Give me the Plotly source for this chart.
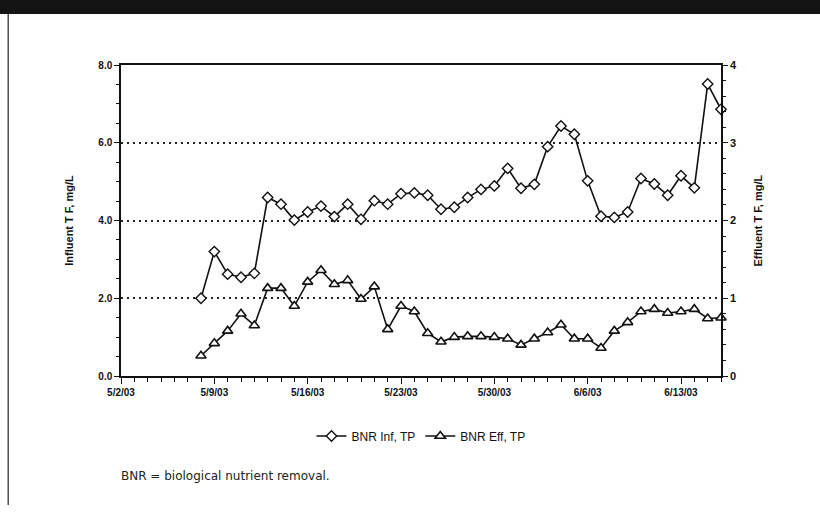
import pandas as pd
import plotly.graph_objects as go

# ---- data ----
dates = pd.date_range("2003-05-08", "2003-06-16", freq="D")
influent_tp = [2.00, 3.20, 2.62, 2.54, 2.64, 4.59, 4.42, 4.01, 4.22, 4.37,
               4.10, 4.42, 4.03, 4.51, 4.42, 4.69, 4.71, 4.65, 4.29, 4.34,
               4.59, 4.80, 4.89, 5.34, 4.83, 4.93, 5.90, 6.43, 6.22, 5.02,
               4.11, 4.08, 4.22, 5.08, 4.94, 4.65, 5.15, 4.84, 7.51, 6.86]
effluent_tp = [0.26, 0.42, 0.58, 0.80, 0.65, 1.13, 1.13, 0.90, 1.21, 1.36,
               1.18, 1.23, 0.99, 1.15, 0.60, 0.90, 0.83, 0.55, 0.44, 0.50,
               0.51, 0.51, 0.50, 0.48, 0.40, 0.48, 0.56, 0.66, 0.48, 0.48,
               0.36, 0.58, 0.69, 0.83, 0.86, 0.81, 0.83, 0.86, 0.74, 0.75]
series_names = ["BNR Inf, TP", "BNR Eff, TP"]
left_title = "Influent T F, mg/L"
right_title = "Effluent T F, mg/L"
footnote = "BNR = biological nutrient removal."

AX_FONT = "Liberation Sans"
fig = go.Figure()
fig.add_trace(go.Scatter(
    x=dates, y=influent_tp, name=series_names[0], mode="lines+markers",
    line=dict(color="#111111", width=1.6),
    marker=dict(symbol="diamond", size=8, color="white",
                line=dict(color="#111111", width=1.4)),
    cliponaxis=False, yaxis="y"))
fig.add_trace(go.Scatter(
    x=dates, y=effluent_tp, name=series_names[1], mode="lines+markers",
    line=dict(color="#111111", width=1.6),
    marker=dict(symbol="triangle-up", size=9, color="white",
                line=dict(color="#111111", width=1.6)),
    cliponaxis=False, yaxis="y2"))

DAY = 86400000
fig.update_layout(
    width=820, height=512,
    margin=dict(l=121, r=99, t=65, b=136),
    paper_bgcolor="white", plot_bgcolor="white",
    showlegend=True,
    legend=dict(orientation="h", x=0.5, xanchor="center", y=-0.193, yanchor="middle",
                font=dict(family=AX_FONT, size=12, color="#111111"),
                bgcolor="rgba(0,0,0,0)", itemwidth=30),
    xaxis=dict(
        type="date", range=["2003-05-02", "2003-06-16"],
        tick0="2003-05-02", dtick=7 * DAY, tickformat="%-m/%-d/%y",
        ticks="outside", ticklen=6, tickwidth=1.2, tickcolor="#111111",
        minor=dict(dtick=DAY, tick0="2003-05-02", ticks="outside", ticklen=4,
                   tickwidth=1, tickcolor="#111111", showgrid=False),
        showline=True, linecolor="#111111", linewidth=1.5, mirror=True,
        showgrid=False, zeroline=False,
        tickfont=dict(family=AX_FONT, size=10, color="#111111", weight="bold"),
    ),
    yaxis=dict(
        range=[0, 8], dtick=2, tick0=0, tickformat=".1f",
        ticks="outside", ticklen=5, tickwidth=1.2, tickcolor="#111111",
        minor=dict(dtick=0.5, ticks="outside", ticklen=3, tickcolor="#111111",
                   showgrid=False),
        showline=True, linecolor="#111111", linewidth=1.5,
        showgrid=True, gridcolor="#222222", gridwidth=1.8, griddash="2px,4px",
        zeroline=False,
        tickfont=dict(family=AX_FONT, size=10, color="#111111", weight="bold"),
    ),
    yaxis2=dict(
        range=[0, 4], dtick=1, tick0=0, overlaying="y", side="right",
        ticks="outside", ticklen=5, tickwidth=1.2, tickcolor="#111111",
        minor=dict(dtick=0.2, ticks="outside", ticklen=3, tickcolor="#111111",
                   showgrid=False),
        showline=True, linecolor="#111111", linewidth=1.5,
        showgrid=False, zeroline=False,
        tickfont=dict(family=AX_FONT, size=11, color="#111111", weight="bold"),
    ),
    annotations=[
        dict(text=left_title, xref="paper", yref="paper", x=-0.088, y=0.5,
             textangle=-90, showarrow=False, xanchor="center", yanchor="middle",
             font=dict(family=AX_FONT, size=11, color="#111111", weight="bold")),
        dict(text=right_title, xref="paper", yref="paper", x=1.06, y=0.5,
             textangle=-90, showarrow=False, xanchor="center", yanchor="middle",
             font=dict(family=AX_FONT, size=11, color="#111111", weight="bold")),
        dict(text=footnote, xref="paper", yref="paper", x=-0.003, y=-0.32,
             showarrow=False, xanchor="left", yanchor="middle",
             font=dict(family="DejaVu Sans", size=12, color="#222222")),
    ],
    shapes=[
        dict(type="rect", xref="paper", yref="paper", x0=-0.21, x1=1.17,
             y0=1.164, y1=1.22, fillcolor="#141414", line=dict(width=0), layer="above"),
        dict(type="line", xref="paper", yref="paper", x0=-0.188, x1=-0.188,
             y0=-0.415, y1=1.164, line=dict(color="#333333", width=1.3)),
    ],
)

fig.write_html("out.html", config={"displayModeBar": False},
               post_script="document.body.style.margin='0';document.body.style.padding='0';")
